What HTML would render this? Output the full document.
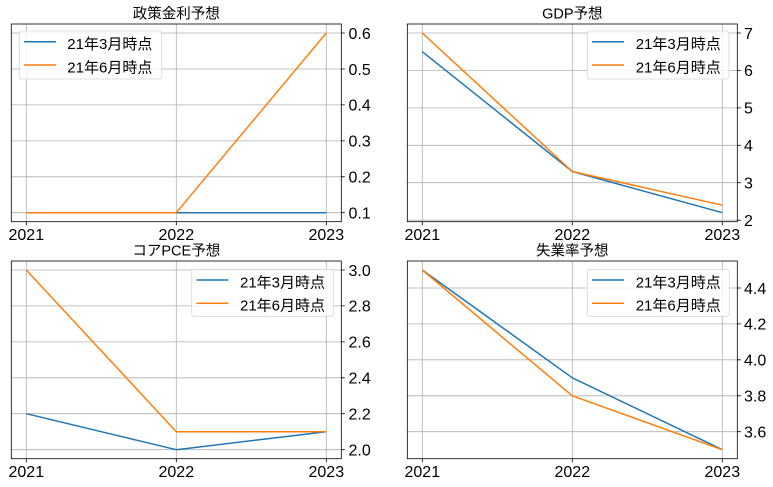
<!DOCTYPE html>
<html><head><meta charset="utf-8"><style>
html,body{margin:0;padding:0;background:#fff;}
svg{display:block;}
text{font-family:"Liberation Sans","Noto Sans CJK JP",sans-serif;fill:#000;}
.tk{font-size:16px;}
.tt{font-size:14.5px;}
.lg{font-size:15px;}
.grid{stroke:#b0b0b0;stroke-width:0.8;fill:none;}
.sp{stroke:#000;stroke-width:0.8;fill:none;}
.b{stroke:#1f77b4;stroke-width:1.5;fill:none;stroke-linejoin:round;}
.o{stroke:#ff7f0e;stroke-width:1.5;fill:none;stroke-linejoin:round;}
.lb{fill:rgba(255,255,255,0.8);stroke:#d6d6d6;stroke-width:0.8;}
</style></head><body>
<svg width="773" height="487" viewBox="0 0 773 487" xmlns="http://www.w3.org/2000/svg">
<rect width="773" height="487" fill="#fff"/>

<!-- ===== Top-left: 政策金利予想 ===== -->
<g>
<path class="grid" d="M26.3 24V221.7M176.3 24V221.7M326.3 24V221.7
M11.3 212.7H341.3M11.3 176.8H341.3M11.3 140.9H341.3M11.3 104.9H341.3M11.3 69H341.3M11.3 33H341.3"/>
<polyline class="b" points="26.3,212.7 176.3,212.7 326.3,212.7"/>
<polyline class="o" points="26.3,212.7 176.3,212.7 326.3,33"/>
<rect class="sp" x="11.3" y="24" width="330" height="197.7"/>
<path class="sp" d="M26.3 221.7v3.5M176.3 221.7v3.5M326.3 221.7v3.5
M341.3 212.7h3.5M341.3 176.8h3.5M341.3 140.9h3.5M341.3 104.9h3.5M341.3 69h3.5M341.3 33h3.5"/>
<g class="tk">
<text x="26.3" y="240" text-anchor="middle">2021</text>
<text x="176.3" y="240" text-anchor="middle">2022</text>
<text x="326.3" y="240" text-anchor="middle">2023</text>
<text x="348.5" y="218.5">0.1</text>
<text x="348.5" y="182.6">0.2</text>
<text x="348.5" y="146.7">0.3</text>
<text x="348.5" y="110.7">0.4</text>
<text x="348.5" y="74.8">0.5</text>
<text x="348.5" y="38.8">0.6</text>
</g>
<text class="tt" x="176.3" y="18.5" text-anchor="middle">政策金利予想</text>
<rect class="lb" x="19.3" y="31" width="142.4" height="48" rx="2.5"/>
<line class="b" x1="24" y1="41.7" x2="56" y2="41.7"/>
<line class="o" x1="24" y1="65" x2="56" y2="65"/>
<text class="lg" x="67.3" y="49">21年3月時点</text>
<text class="lg" x="67.3" y="72.3">21年6月時点</text>
</g>

<!-- ===== Top-right: GDP予想 ===== -->
<g>
<path class="grid" d="M422.3 24V221.7M572.3 24V221.7M722.3 24V221.7
M407.3 220.2H737.3M407.3 182.7H737.3M407.3 145.3H737.3M407.3 107.9H737.3M407.3 70.4H737.3M407.3 33H737.3"/>
<polyline class="b" points="422.3,51.7 572.3,171.5 722.3,212.7"/>
<polyline class="o" points="422.3,33 572.3,171.5 722.3,205.2"/>
<rect class="sp" x="407.3" y="24" width="330" height="197.7"/>
<path class="sp" d="M422.3 221.7v3.5M572.3 221.7v3.5M722.3 221.7v3.5
M737.3 220.2h3.5M737.3 182.7h3.5M737.3 145.3h3.5M737.3 107.9h3.5M737.3 70.4h3.5M737.3 33h3.5"/>
<g class="tk">
<text x="422.3" y="240" text-anchor="middle">2021</text>
<text x="572.3" y="240" text-anchor="middle">2022</text>
<text x="722.3" y="240" text-anchor="middle">2023</text>
<text x="744" y="226">2</text>
<text x="744" y="188.5">3</text>
<text x="744" y="151.1">4</text>
<text x="744" y="113.7">5</text>
<text x="744" y="76.2">6</text>
<text x="744" y="38.8">7</text>
</g>
<text class="tt" x="572.3" y="18.5" text-anchor="middle">GDP予想</text>
<rect class="lb" x="587.3" y="31" width="141.7" height="48" rx="2.5"/>
<line class="b" x1="592" y1="41.7" x2="624" y2="41.7"/>
<line class="o" x1="592" y1="65" x2="624" y2="65"/>
<text class="lg" x="635.7" y="49">21年3月時点</text>
<text class="lg" x="635.7" y="72.3">21年6月時点</text>
</g>

<!-- ===== Bottom-left: コアPCE予想 ===== -->
<g>
<path class="grid" d="M26.3 261V458.7M176.3 261V458.7M326.3 261V458.7
M11.3 449.7H341.3M11.3 413.7H341.3M11.3 377.8H341.3M11.3 341.9H341.3M11.3 305.9H341.3M11.3 270H341.3"/>
<polyline class="b" points="26.3,413.7 176.3,449.7 326.3,431.7"/>
<polyline class="o" points="26.3,270 176.3,431.7 326.3,431.7"/>
<rect class="sp" x="11.3" y="261" width="330" height="197.7"/>
<path class="sp" d="M26.3 458.7v3.5M176.3 458.7v3.5M326.3 458.7v3.5
M341.3 449.7h3.5M341.3 413.7h3.5M341.3 377.8h3.5M341.3 341.9h3.5M341.3 305.9h3.5M341.3 270h3.5"/>
<g class="tk">
<text x="26.3" y="477" text-anchor="middle">2021</text>
<text x="176.3" y="477" text-anchor="middle">2022</text>
<text x="326.3" y="477" text-anchor="middle">2023</text>
<text x="348.5" y="455.5">2.0</text>
<text x="348.5" y="419.5">2.2</text>
<text x="348.5" y="383.6">2.4</text>
<text x="348.5" y="347.7">2.6</text>
<text x="348.5" y="311.7">2.8</text>
<text x="348.5" y="275.8">3.0</text>
</g>
<text class="tt" x="176.3" y="255.5" text-anchor="middle">コアPCE予想</text>
<rect class="lb" x="191.7" y="269.3" width="141.6" height="47" rx="2.5"/>
<line class="b" x1="196.4" y1="280" x2="228.4" y2="280"/>
<line class="o" x1="196.4" y1="303.3" x2="228.4" y2="303.3"/>
<text class="lg" x="240" y="287.3">21年3月時点</text>
<text class="lg" x="240" y="310.6">21年6月時点</text>
</g>

<!-- ===== Bottom-right: 失業率予想 ===== -->
<g>
<path class="grid" d="M422.3 261V458.7M572.3 261V458.7M722.3 261V458.7
M407.3 431.7H737.3M407.3 395.8H737.3M407.3 359.8H737.3M407.3 323.9H737.3M407.3 288H737.3"/>
<polyline class="b" points="422.3,270 572.3,377.8 722.3,449.7"/>
<polyline class="o" points="422.3,270 572.3,395.8 722.3,449.7"/>
<rect class="sp" x="407.3" y="261" width="330" height="197.7"/>
<path class="sp" d="M422.3 458.7v3.5M572.3 458.7v3.5M722.3 458.7v3.5
M737.3 431.7h3.5M737.3 395.8h3.5M737.3 359.8h3.5M737.3 323.9h3.5M737.3 288h3.5"/>
<g class="tk">
<text x="422.3" y="477" text-anchor="middle">2021</text>
<text x="572.3" y="477" text-anchor="middle">2022</text>
<text x="722.3" y="477" text-anchor="middle">2023</text>
<text x="744" y="437.5">3.6</text>
<text x="744" y="401.6">3.8</text>
<text x="744" y="365.6">4.0</text>
<text x="744" y="329.7">4.2</text>
<text x="744" y="293.8">4.4</text>
</g>
<text class="tt" x="572.3" y="255.5" text-anchor="middle">失業率予想</text>
<rect class="lb" x="587.3" y="269.3" width="142" height="47" rx="2.5"/>
<line class="b" x1="592" y1="280" x2="624" y2="280"/>
<line class="o" x1="592" y1="303.3" x2="624" y2="303.3"/>
<text class="lg" x="635.7" y="287.3">21年3月時点</text>
<text class="lg" x="635.7" y="310.6">21年6月時点</text>
</g>
</svg>
</body></html>
